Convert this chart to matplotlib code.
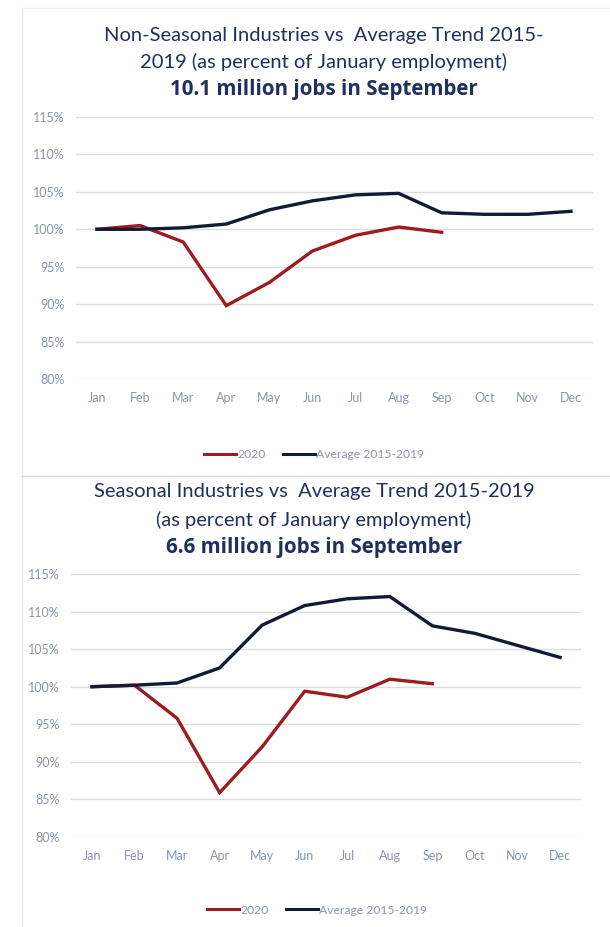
import numpy as np
import matplotlib
matplotlib.use('Agg')
import matplotlib.pyplot as plt
from matplotlib.lines import Line2D
from matplotlib.ticker import FuncFormatter

plt.rcParams['font.family'] = ['Lato', 'DejaVu Sans']

# ---- data ----
months = ['Jan', 'Feb', 'Mar', 'Apr', 'May', 'Jun',
          'Jul', 'Aug', 'Sep', 'Oct', 'Nov', 'Dec']

nonseas_2020 = [100.0, 100.5, 98.3, 89.8, 92.9, 97.1, 99.2, 100.3, 99.6]
nonseas_avg = [100.0, 100.0, 100.2, 100.7, 102.6, 103.8,
               104.6, 104.8, 102.2, 102.0, 102.0, 102.4]

seas_2020 = [100.0, 100.2, 95.8, 85.9, 92.0, 99.4, 98.6, 101.0, 100.4]
seas_avg = [100.0, 100.2, 100.5, 102.5, 108.2, 110.8,
            111.7, 112.0, 108.1, 107.1, 105.5, 103.9]

titles = [
    ('Non-Seasonal Industries vs  Average Trend 2015-\n2019 (as percent of January employment)',
     '10.1 million jobs in September'),
    ('Seasonal Industries vs  Average Trend 2015-2019\n(as percent of January employment)',
     '6.6 million jobs in September'),
]
series_names = ['2020', 'Average 2015-2019']
yticks = [80, 85, 90, 95, 100, 105, 110, 115]

# ---- style ----
RED = '#9C1C20'
NAVY = '#121B36'
TITLE_C = '#1F2F5F'
TICK_C = '#8796AE'
GRID_C = '#DCDCDC'

W, H = 610, 927
fig = plt.figure(figsize=(W / 100, H / 100), dpi=100)

def px_axes(left, right, top, bottom):
    return fig.add_axes([left / W, 1 - bottom / H, (right - left) / W, (bottom - top) / H])

# panel borders
fig.add_artist(Line2D([22 / W, 22 / W], [0, 1 - 8 / H], color='#E4E4E4', lw=1))
fig.add_artist(Line2D([22 / W, 1], [1 - 8 / H, 1 - 8 / H], color='#EEEEEE', lw=1))
fig.add_artist(Line2D([22 / W, 1], [1 - 476 / H, 1 - 476 / H], color='#D8D8D8', lw=1))

panels = [
    dict(ax=(75.5, 592.5, 117, 379), data=(nonseas_2020, nonseas_avg),
         title_y=(35, 62, 89), legend_y=455, title_x=324, legend_x=314),
    dict(ax=(70.7, 581.3, 574, 837), data=(seas_2020, seas_avg),
         title_y=(492, 520, 547), legend_y=910, title_x=314, legend_x=317),
]

for p, (t_main, t_bold) in zip(panels, titles):
    ax = px_axes(*p['ax'])
    x = np.arange(len(months))
    s2020, savg = p['data']
    ax.plot(x[:len(s2020)], s2020, color=RED, lw=2.4, solid_joinstyle='miter')
    ax.plot(x, savg, color=NAVY, lw=2.4, solid_joinstyle='miter')
    ax.set_xlim(-0.5, 11.5)
    ax.set_ylim(80, 115)
    ax.set_yticks(yticks)
    ax.yaxis.set_major_formatter(FuncFormatter(lambda v, pos: f'{v:.0f}%'))
    ax.set_xticks(x)
    ax.set_xticklabels(months)
    ax.grid(axis='y', color=GRID_C, lw=1)
    ax.set_axisbelow(True)
    for s in ax.spines.values():
        s.set_visible(False)
    ax.tick_params(length=0, colors=TICK_C, labelsize=9)
    ax.tick_params(axis='x', pad=9)
    ax.tick_params(axis='y', pad=8)

    ty = p['title_y']
    lines = t_main.split('\n')
    for yy, txt in zip(ty[:2], lines):
        fig.text(p['title_x'] / W, 1 - yy / H, txt, ha='center', va='center',
                 color=TITLE_C, fontsize=14.5)
    fig.text(p['title_x'] / W, 1 - ty[2] / H, t_bold, ha='center', va='center',
             color=TITLE_C, fontsize=14.8, fontweight='bold',
             family=['Open Sans', 'DejaVu Sans'])

    handles = [Line2D([], [], color=RED, lw=2.2), Line2D([], [], color=NAVY, lw=2.2)]
    fig.legend(handles, series_names, loc='center', ncol=2,
               bbox_to_anchor=(p['legend_x'] / W, 1 - p['legend_y'] / H), frameon=False,
               fontsize=8.7, labelcolor=TICK_C, handlelength=2.7,
               handletextpad=0.1, columnspacing=1.4)

fig.savefig('out.png', dpi=100, facecolor='white')
